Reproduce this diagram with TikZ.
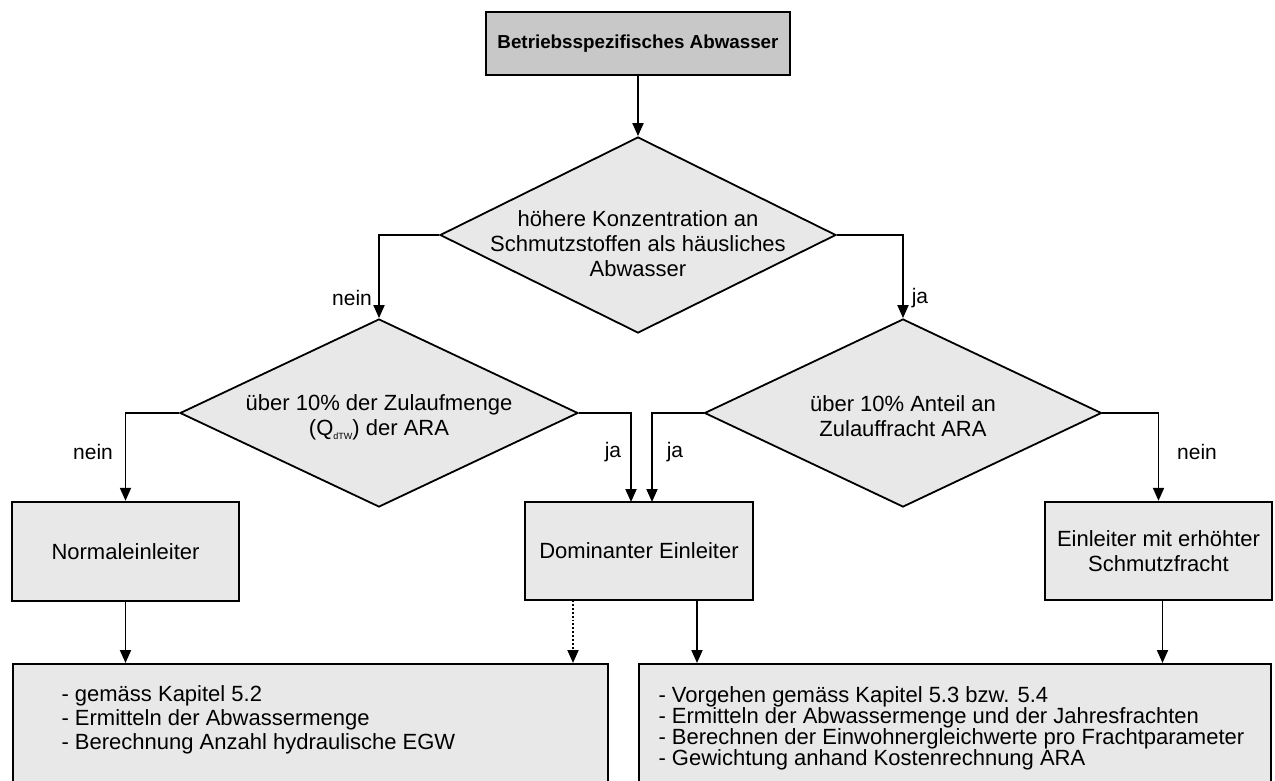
\documentclass[tikz,border=0pt]{standalone}
\usepackage{fontspec}
\setmainfont{Liberation Sans}
\usetikzlibrary{arrows.meta,shapes.geometric}
\definecolor{boxfill}{HTML}{E8E8E8}
\definecolor{topfill}{HTML}{C8C8C8}
\tikzset{
  x=1pt,y=-1pt,
  every node/.style={font=\fontsize{22}{25}\selectfont},
  flowbox/.style={draw=black,line width=2.4pt,fill=boxfill,inner sep=0pt,align=center},
  decision/.style={diamond,draw=black,line width=1.8pt,fill=boxfill,inner sep=0pt},
  conn/.style={line width=1.9pt,-{Triangle[length=13pt,width=11pt]}},
  dotconn/.style={line width=1.9pt,dotted,-{Triangle[length=13pt,width=11pt]}},
  lbl/.style={font=\fontsize{21}{24}\selectfont}
}
\begin{document}
\begin{tikzpicture}
\useasboundingbox (0,0) rectangle (1275,780);
\fill[white] (0,0) rectangle (1275,780);

% top box
\node[flowbox,fill=topfill,minimum width=304,minimum height=63,font=\fontsize{18.8}{22}\selectfont\bfseries] (top) at (638,43.5) {Betriebsspezifisches Abwasser};

% decisions
\node[decision,minimum width=396,minimum height=196] (d1) at (638,235) {};
\node[align=center] (d1t) at (638,244) {höhere Konzentration an\\Schmutzstoffen als häusliches\\Abwasser};

\node[decision,minimum width=398,minimum height=188] (d2) at (379,413) {};
\node[align=center] (d2t) at (379,417) {über 10\% der Zulaufmenge\\(Q\raisebox{-0.35ex}{\fontsize{9}{9}\selectfont dTW}) der ARA};

\node[decision,minimum width=397,minimum height=188] (d3) at (903,413) {};
\node[align=center] (d3t) at (903,416) {über 10\% Anteil an\\Zulauffracht ARA};

% result boxes
\node[flowbox,minimum width=227,minimum height=99] (norm) at (125.5,551.5) {Normaleinleiter};
\node[flowbox,minimum width=228,minimum height=98] (dom) at (639,551) {Dominanter Einleiter};
\node[flowbox,minimum width=227,minimum height=98] (ein) at (1158.5,551) {Einleiter mit erhöhter\\Schmutzfracht};

% bottom boxes
\node[flowbox,minimum width=595,minimum height=130,anchor=north west] (bl) at (12,663) {};
\node[anchor=north west,align=left,font=\fontsize{22}{24}\selectfont] (blt) at (58,682) {- gemäss Kapitel 5.2\\- Ermitteln der Abwassermenge\\- Berechnung Anzahl hydraulische EGW};
\node[flowbox,minimum width=632,minimum height=130,anchor=north west] (br) at (638,663) {};
\node[anchor=north west,align=left,font=\fontsize{22}{21}\selectfont] (brt) at (655,683) {- Vorgehen gemäss Kapitel 5.3 bzw. 5.4\\- Ermitteln der Abwassermenge und der Jahresfrachten\\- Berechnen der Einwohnergleichwerte pro Frachtparameter\\- Gewichtung anhand Kostenrechnung ARA};

% helper coordinates
\coordinate (domA) at (631,502);
\coordinate (domB) at (652,502);
\coordinate (domC) at (573,600);
\coordinate (domD) at (697,600);

% connectors
\draw[conn] (top.south) -- (d1.north);
\draw[conn] (d1.west) -| (d2.north);
\draw[conn] (d1.east) -| (d3.north);
\draw[conn] (d2.west) -| (norm.north);
\draw[conn] (d2.east) -| (domA);
\draw[conn] (d3.west) -| (domB);
\draw[conn] (d3.east) -| (ein.north);
\draw[conn] (norm.south) -- (norm.south |- bl.north);
\draw[dotconn] (domC) -- (domC |- bl.north);
\draw[conn] (domD) -- (domD |- br.north);
\draw[conn] ([xshift=4pt]ein.south) -- ([xshift=4pt]ein.south |- br.north);

% labels
\node[lbl] (l1) at (352,298) {nein};
\node[lbl] (l2) at (920,298) {ja};
\node[lbl] (l3) at (93,452) {nein};
\node[lbl] (l4) at (613,452) {ja};
\node[lbl] (l5) at (675,452) {ja};
\node[lbl] (l6) at (1197,452) {nein};
\end{tikzpicture}
\end{document}
